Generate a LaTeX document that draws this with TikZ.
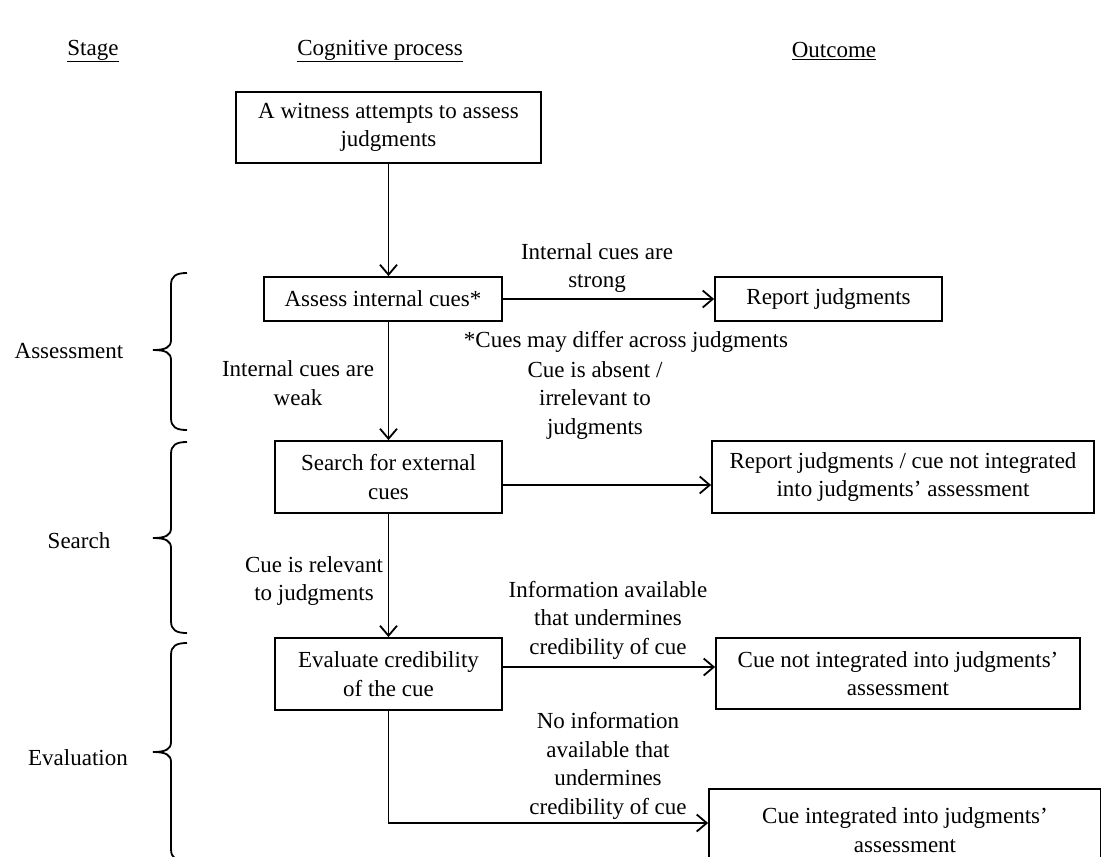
\documentclass[tikz,border=0pt]{standalone}
\usepackage{fontspec}
\setmainfont{Liberation Serif}
\usetikzlibrary{arrows.meta}
\newcommand\stagebrace[3]{%
  \draw[brc] (187,#1) .. controls (176,#1) and (171,#1+3) .. (171,#1+12)
    -- (171,#2-10) .. controls (171,#2-3) and (166,#2) .. (153,#2)
    .. controls (166,#2) and (171,#2+3) .. (171,#2+10)
    -- (171,#3-12) .. controls (171,#3-3) and (176,#3) .. (187,#3);}
\begin{document}
\begin{tikzpicture}[x=1pt,y=-1pt,
  every node/.style={font=\fontsize{23}{28.5}\selectfont, inner sep=0pt, align=center},
  box/.style={draw, line width=1.8pt},
  arr/.style={line width=1.8pt, -{Straight Barb[length=10pt,width=17pt,line width=1.8pt]}},
  brc/.style={line width=1.8pt}]
\useasboundingbox (0,0) rectangle (1101,857);
\clip (0,0) rectangle (1101,857);
\fill[white] (0,0) rectangle (1101,857);

% headers
\node (hs) at (93,51) {\underline{Stage}};
\node (hc) at (380,51) {\underline{Cognitive process}};
\node (ho) at (834,51) {\underline{Outcome}};

% process boxes
\node[box, minimum width=305, minimum height=71] (b1) at (388.5,127.5) {A witness attempts to assess\\judgments};
\node[box, minimum width=238, minimum height=44] (b2) at (383,299) {Assess internal cues*};
\node[box, minimum width=227, minimum height=72] (b3) at (388.5,477) {Search for external\\cues};
\node[box, minimum width=227, minimum height=72] (b4) at (388.5,674) {Evaluate credibility\\of the cue};

% outcome boxes
\node[box, minimum width=227, minimum height=44] (o1) at (828.5,299) {Report judgments};
\node[box, minimum width=382, minimum height=72] (o2) at (903,477) {Report judgments / cue not integrated\\into judgments’ assessment};
\node[box, minimum width=364, minimum height=71] (o3) at (898,673.5) {Cue not integrated into judgments’\\assessment};
\node[box, minimum width=392, minimum height=82] (o4) at (905,830) {Cue integrated into judgments’\\assessment};

% connectors
\coordinate (col) at (388.5,0);
\coordinate (low) at (0,823);
\draw[arr] (b1.south -| col) -- (b2.north -| col);
\draw[arr] (b2.south -| col) -- (b3.north);
\draw[arr] (b3.south) -- (b4.north);
\draw[arr] (b2.east) -- (o1.west);
\draw[arr] ([yshift=-8pt]b3.east) -- ([yshift=-8pt]b3.east -| o2.west);
\draw[arr] ([yshift=7pt]b4.east) -- ([yshift=7pt]b4.east -| o3.west);
\draw[arr] (b4.south) |- (o4.west |- low);

% labels
\node (l1) at (597,268) {Internal cues are\\strong};
\node (fn) at (626,342) {*Cues may differ across judgments};
\node (l2) at (298,383) {Internal cues are\\weak};
\node (l3) at (595,400) {Cue is absent /\\irrelevant to\\judgments};
\node (l4) at (314,581) {Cue is relevant\\to judgments};
\node (l5) at (608,620) {Information available\\that undermines\\credibility of cue};
\node (l6) at (608,766) {No information\\available that\\undermines\\credibility of cue};

% stages
\node (sa) at (69,351) {Assessment};
\node (ss) at (79,541) {Search};
\node (se) at (78,758) {Evaluation};
\stagebrace{273}{350}{430}
\stagebrace{442}{538}{633}
\stagebrace{643}{752}{861}
\end{tikzpicture}
\end{document}
